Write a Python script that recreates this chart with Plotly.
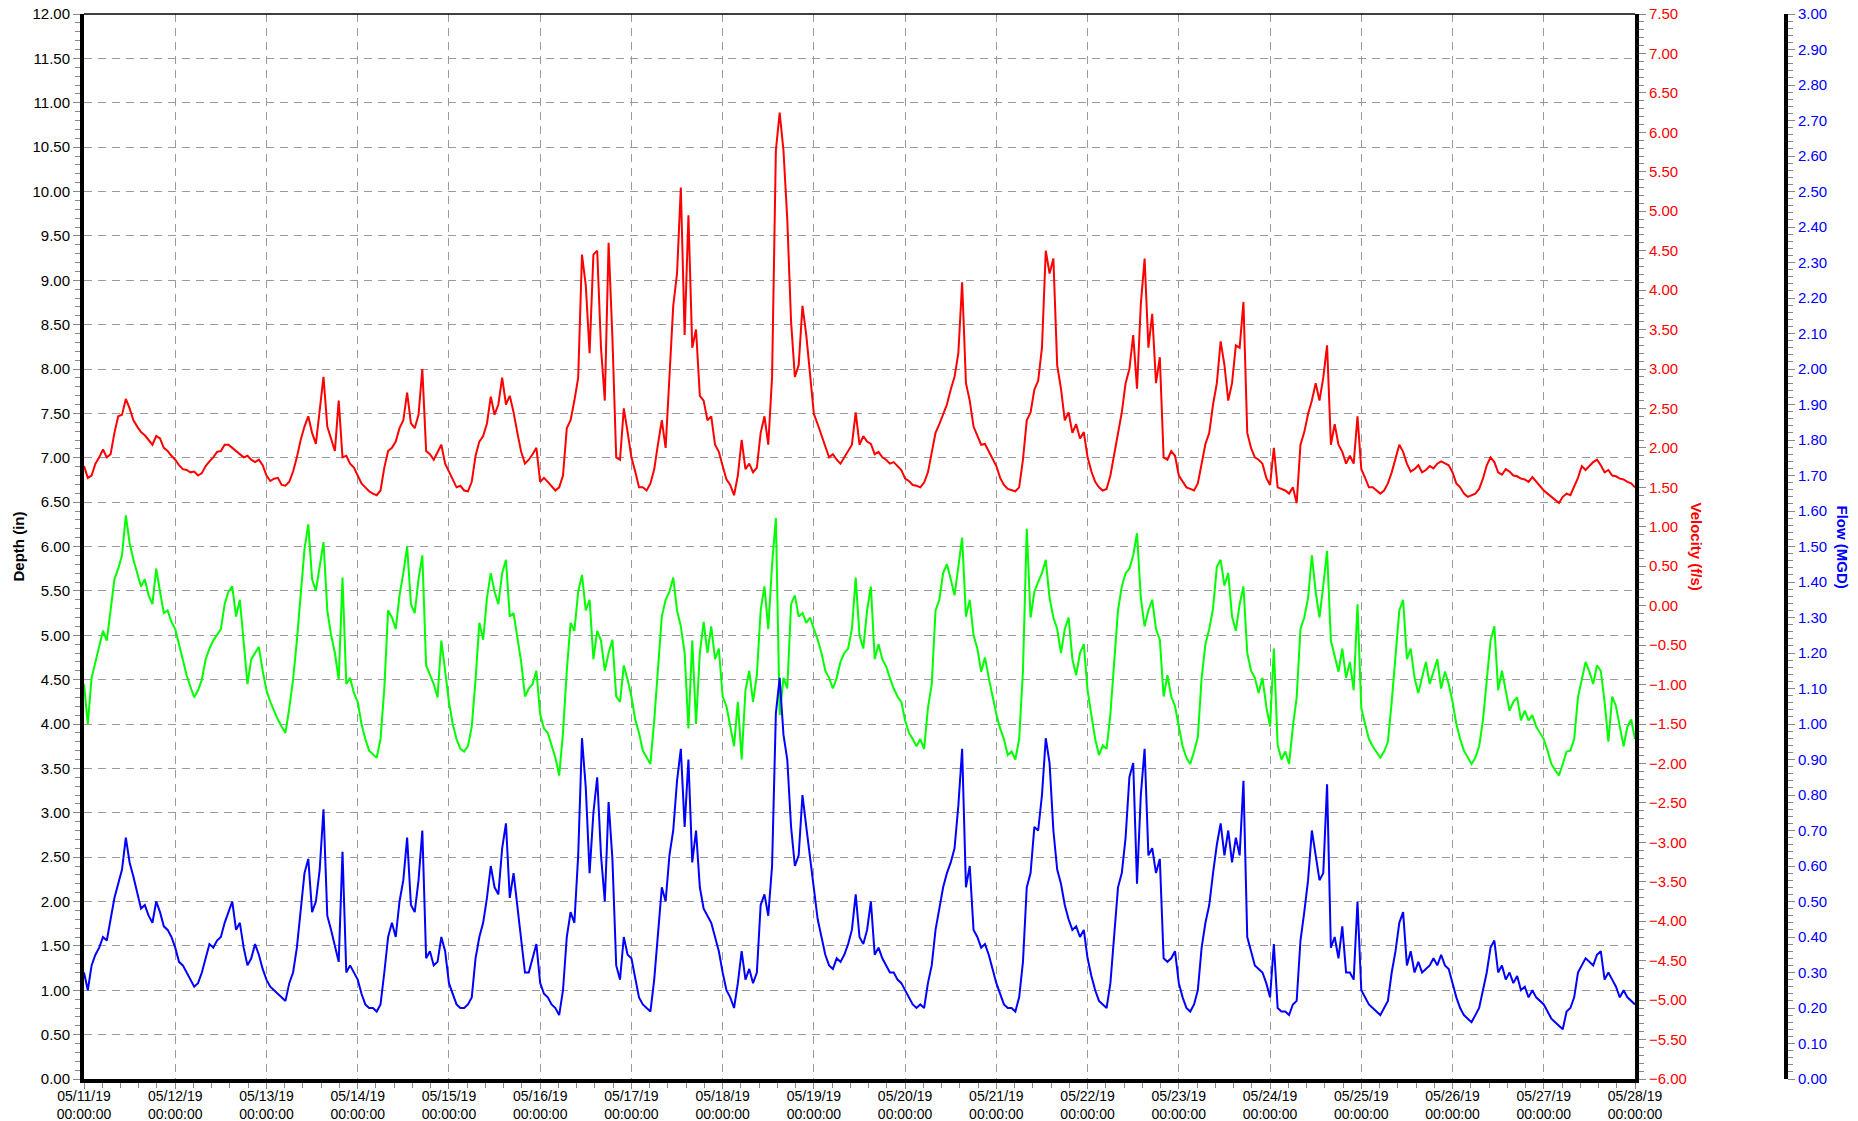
import pandas as pd
import plotly.graph_objects as go

# hourly samples, 05/11/19 00:00 -> 05/28/19 00:00
times = pd.date_range("2019-05-11 00:00", "2019-05-28 00:00", freq="1h")

velocity = [
    1.77,1.62, 1.65,1.80, 1.88,1.98, 1.88,1.92, 2.19,2.40, 2.42,2.62, 2.50,2.35, 2.27,2.20, 2.16,2.10, 2.04,2.15, 2.12,2.00, 1.96,1.90,
    1.85,1.78, 1.73,1.72, 1.69,1.70, 1.65,1.68, 1.77,1.83, 1.88,1.95, 1.96,2.04, 2.04,2.00, 1.96,1.92, 1.88,1.90, 1.85,1.82, 1.85,1.78,
    1.65,1.58, 1.61,1.62, 1.53,1.52, 1.57,1.70, 1.88,2.10, 2.27,2.40, 2.19,2.05, 2.50,2.90, 2.27,2.10, 1.96,2.60, 1.88,1.90, 1.80,1.75,
    1.65,1.55, 1.50,1.45, 1.42,1.40, 1.46,1.75, 1.96,2.00, 2.08,2.25, 2.35,2.70, 2.31,2.25, 2.42,3.00, 1.96,1.92, 1.85,1.95, 2.04,1.80,
    1.69,1.60, 1.50,1.52, 1.46,1.45, 1.57,1.90, 2.08,2.15, 2.31,2.65, 2.42,2.55, 2.89,2.55, 2.66,2.45, 2.19,1.95, 1.80,1.85, 1.92,2.00,
    1.57,1.62, 1.57,1.52, 1.46,1.50, 1.65,2.25, 2.35,2.60, 2.89,4.45, 4.06,3.20, 4.45,4.50, 3.27,2.60, 4.60,3.40, 1.88,1.85, 2.50,2.20,
    1.88,1.70, 1.50,1.50, 1.46,1.55, 1.73,2.05, 2.35,2.00, 2.89,3.80, 4.21,5.30, 3.43,4.95, 3.27,3.50, 2.66,2.60, 2.35,2.40, 2.04,1.95,
    1.77,1.60, 1.53,1.40, 1.65,2.10, 1.73,1.80, 1.69,1.75, 2.19,2.40, 2.04,2.90, 5.77,6.25, 5.77,4.90, 3.60,2.90, 3.05,3.80, 3.43,2.90,
    2.43,2.30, 2.16,2.00, 1.88,1.92, 1.85,1.80, 1.88,1.95, 2.04,2.45, 2.04,2.15, 2.08,2.05, 1.92,1.95, 1.88,1.85, 1.80,1.82, 1.77,1.72,
    1.61,1.58, 1.53,1.52, 1.50,1.56, 1.69,1.95, 2.19,2.30, 2.43,2.55, 2.74,2.90, 3.20,4.10, 2.82,2.60, 2.27,2.15, 2.04,2.05, 1.96,1.85,
    1.77,1.62, 1.53,1.48, 1.46,1.45, 1.50,1.85, 2.35,2.45, 2.74,2.85, 3.27,4.50, 4.21,4.40, 3.05,2.75, 2.35,2.45, 2.19,2.30, 2.12,2.20,
    1.88,1.70, 1.57,1.50, 1.46,1.48, 1.65,1.90, 2.19,2.45, 2.82,3.00, 3.43,2.75, 3.82,4.40, 3.27,3.70, 2.82,3.15, 1.88,1.85, 1.96,1.90,
    1.65,1.58, 1.50,1.48, 1.46,1.55, 1.80,2.05, 2.19,2.55, 2.82,3.35, 3.05,2.60, 2.82,3.30, 3.27,3.85, 2.19,2.00, 1.88,1.85, 1.80,1.62,
    1.53,2.00, 1.50,1.48, 1.46,1.42, 1.50,1.30, 2.04,2.20, 2.43,2.60, 2.82,2.60, 2.89,3.30, 2.04,2.30, 2.04,1.95, 1.80,1.90, 1.80,2.40,
    1.73,1.62, 1.50,1.50, 1.46,1.42, 1.46,1.55, 1.69,1.85, 2.04,1.95, 1.80,1.70, 1.73,1.78, 1.69,1.72, 1.77,1.74, 1.80,1.83, 1.80,1.78,
    1.69,1.55, 1.50,1.42, 1.38,1.40, 1.42,1.48, 1.61,1.78, 1.88,1.82, 1.69,1.66, 1.73,1.70, 1.65,1.64, 1.61,1.60, 1.57,1.63, 1.57,1.52,
    1.46,1.42, 1.38,1.35, 1.30,1.38, 1.42,1.40, 1.50,1.62, 1.77,1.72, 1.77,1.82, 1.85,1.78, 1.69,1.72, 1.65,1.64, 1.61,1.60, 1.57,1.55,
    1.50,
]

depth = [
    4.45,4.00, 4.52,4.70, 4.87,5.05, 4.94,5.30, 5.63,5.75, 5.90,6.35, 6.04,5.85, 5.70,5.55, 5.63,5.45, 5.35,5.75, 5.49,5.25, 5.28,5.15,
    5.07,4.90, 4.73,4.55, 4.42,4.30, 4.38,4.50, 4.73,4.85, 4.94,5.00, 5.07,5.35, 5.49,5.55, 5.21,5.40, 4.94,4.45, 4.73,4.80, 4.87,4.60,
    4.38,4.25, 4.14,4.05, 3.97,3.90, 4.18,4.50, 4.94,5.50, 5.97,6.25, 5.63,5.50, 5.77,6.05, 5.28,5.00, 4.80,4.50, 5.65,4.45, 4.52,4.35,
    4.25,4.00, 3.83,3.70, 3.66,3.62, 3.83,4.40, 5.28,5.20, 5.07,5.45, 5.70,6.00, 5.35,5.25, 5.63,5.90, 4.66,4.55, 4.45,4.30, 4.94,4.60,
    4.25,4.00, 3.83,3.72, 3.69,3.75, 3.97,4.50, 5.14,4.95, 5.42,5.70, 5.49,5.35, 5.70,5.85, 5.21,5.25, 5.00,4.70, 4.31,4.40, 4.45,4.60,
    4.11,3.95, 3.90,3.75, 3.62,3.42, 3.90,4.60, 5.14,5.05, 5.49,5.68, 5.28,5.40, 4.73,5.05, 4.94,4.60, 4.80,4.95, 4.31,4.25, 4.66,4.50,
    4.31,4.05, 3.90,3.70, 3.62,3.55, 4.04,4.60, 5.21,5.40, 5.49,5.65, 5.28,5.10, 4.80,3.95, 4.94,4.00, 4.80,5.15, 4.80,5.10, 4.73,4.85,
    4.31,4.20, 3.97,3.75, 4.25,3.60, 4.38,4.60, 4.25,4.55, 5.28,5.55, 5.07,5.80, 6.32,4.10, 4.52,4.40, 5.35,5.45, 5.21,5.25, 5.14,5.20,
    5.07,4.95, 4.80,4.60, 4.52,4.40, 4.52,4.70, 4.80,4.85, 5.07,5.65, 5.00,4.85, 5.28,5.55, 4.73,4.90, 4.73,4.65, 4.52,4.40, 4.31,4.25,
    4.04,3.90, 3.83,3.75, 3.83,3.72, 4.18,4.45, 5.28,5.40, 5.70,5.80, 5.63,5.45, 5.77,6.10, 5.21,5.40, 5.00,4.85, 4.59,4.75, 4.52,4.30,
    4.11,3.95, 3.83,3.65, 3.69,3.60, 3.83,4.60, 6.20,5.20, 5.49,5.60, 5.70,5.85, 5.42,5.20, 5.07,4.80, 5.07,5.20, 4.73,4.55, 4.80,4.90,
    4.38,4.10, 3.83,3.65, 3.76,3.72, 4.11,4.70, 5.28,5.55, 5.70,5.75, 5.90,6.15, 5.42,5.10, 5.28,5.40, 5.07,4.95, 4.31,4.55, 4.31,4.20,
    3.97,3.75, 3.62,3.55, 3.69,3.85, 4.52,4.90, 5.07,5.30, 5.77,5.85, 5.56,5.70, 5.21,5.05, 5.35,5.55, 4.80,4.60, 4.52,4.35, 4.52,4.20,
    3.97,4.85, 3.76,3.60, 3.69,3.55, 3.97,4.30, 5.07,5.20, 5.42,5.90, 5.49,5.20, 5.56,5.95, 4.94,4.75, 4.59,4.85, 4.52,4.70, 4.38,5.35,
    4.18,4.00, 3.83,3.75, 3.69,3.62, 3.69,3.80, 4.25,4.80, 5.28,5.40, 4.73,4.85, 4.52,4.35, 4.52,4.70, 4.45,4.60, 4.73,4.40, 4.59,4.45,
    4.25,4.00, 3.83,3.70, 3.62,3.55, 3.62,3.75, 4.04,4.45, 4.94,5.10, 4.38,4.60, 4.38,4.15, 4.25,4.30, 4.04,4.15, 4.04,4.10, 3.97,3.90,
    3.83,3.70, 3.55,3.48, 3.42,3.55, 3.69,3.70, 3.83,4.30, 4.52,4.70, 4.59,4.45, 4.66,4.60, 4.25,3.80, 4.31,4.20, 3.97,3.75, 3.97,4.05,
    3.83,
]

flow = [
    0.30,0.25, 0.32,0.35, 0.37,0.40, 0.39,0.45, 0.51,0.55, 0.59,0.68, 0.61,0.57, 0.52,0.48, 0.49,0.46, 0.44,0.50, 0.47,0.43, 0.42,0.40,
    0.37,0.33, 0.32,0.30, 0.28,0.26, 0.27,0.30, 0.34,0.38, 0.37,0.39, 0.40,0.44, 0.47,0.50, 0.42,0.44, 0.37,0.32, 0.34,0.38, 0.35,0.31,
    0.28,0.26, 0.25,0.24, 0.23,0.22, 0.27,0.30, 0.37,0.48, 0.58,0.62, 0.47,0.50, 0.59,0.76, 0.46,0.42, 0.37,0.33, 0.64,0.30, 0.32,0.30,
    0.28,0.24, 0.21,0.20, 0.20,0.19, 0.21,0.30, 0.40,0.44, 0.40,0.50, 0.56,0.68, 0.49,0.47, 0.56,0.70, 0.34,0.36, 0.32,0.33, 0.40,0.36,
    0.27,0.24, 0.21,0.20, 0.20,0.21, 0.23,0.34, 0.40,0.44, 0.51,0.60, 0.54,0.52, 0.65,0.72, 0.51,0.58, 0.49,0.40, 0.30,0.30, 0.34,0.38,
    0.27,0.24, 0.23,0.21, 0.20,0.18, 0.25,0.40, 0.47,0.44, 0.63,0.96, 0.82,0.58, 0.75,0.85, 0.63,0.50, 0.78,0.62, 0.32,0.28, 0.40,0.35,
    0.34,0.28, 0.23,0.21, 0.20,0.19, 0.28,0.40, 0.54,0.50, 0.63,0.70, 0.84,0.93, 0.71,0.90, 0.61,0.70, 0.54,0.48, 0.46,0.44, 0.40,0.36,
    0.30,0.25, 0.23,0.20, 0.27,0.36, 0.28,0.31, 0.27,0.30, 0.49,0.52, 0.46,0.60, 1.03,1.13, 0.97,0.90, 0.71,0.60, 0.63,0.80, 0.71,0.62,
    0.54,0.45, 0.40,0.35, 0.32,0.31, 0.34,0.33, 0.35,0.38, 0.42,0.52, 0.40,0.38, 0.42,0.50, 0.35,0.37, 0.34,0.32, 0.30,0.30, 0.28,0.27,
    0.25,0.23, 0.21,0.20, 0.21,0.20, 0.27,0.32, 0.42,0.48, 0.54,0.58, 0.61,0.65, 0.77,0.93, 0.54,0.60, 0.42,0.40, 0.37,0.38, 0.35,0.31,
    0.27,0.24, 0.21,0.20, 0.20,0.19, 0.23,0.33, 0.54,0.58, 0.71,0.70, 0.80,0.96, 0.89,0.70, 0.59,0.55, 0.49,0.45, 0.42,0.43, 0.40,0.42,
    0.34,0.29, 0.25,0.22, 0.21,0.20, 0.27,0.40, 0.54,0.58, 0.68,0.85, 0.89,0.55, 0.80,0.93, 0.63,0.65, 0.58,0.62, 0.34,0.33, 0.34,0.36,
    0.27,0.23, 0.20,0.19, 0.21,0.25, 0.37,0.44, 0.49,0.58, 0.66,0.72, 0.63,0.70, 0.61,0.68, 0.63,0.84, 0.40,0.36, 0.32,0.31, 0.30,0.27,
    0.23,0.38, 0.20,0.19, 0.19,0.18, 0.21,0.22, 0.39,0.47, 0.56,0.70, 0.63,0.56, 0.58,0.83, 0.37,0.40, 0.34,0.43, 0.30,0.30, 0.28,0.50,
    0.25,0.23, 0.21,0.20, 0.19,0.18, 0.20,0.22, 0.30,0.36, 0.44,0.47, 0.32,0.36, 0.30,0.33, 0.30,0.31, 0.32,0.34, 0.32,0.35, 0.32,0.31,
    0.27,0.23, 0.20,0.18, 0.17,0.16, 0.18,0.20, 0.25,0.30, 0.37,0.39, 0.30,0.32, 0.28,0.30, 0.27,0.29, 0.25,0.26, 0.23,0.25, 0.23,0.22,
    0.21,0.19, 0.17,0.16, 0.15,0.14, 0.19,0.20, 0.23,0.30, 0.32,0.34, 0.33,0.32, 0.35,0.36, 0.28,0.30, 0.28,0.26, 0.23,0.25, 0.23,0.22,
    0.21,
]

FONT = "Liberation Sans, Arial, Helvetica, sans-serif"
W, H = 1858, 1121
ML, MR, MT, MB = 84, 72, 14, 42
PW = W - ML - MR
XDOM = (1635 - ML) / PW

def px(x):
    return (x - ML) / PW

fig = go.Figure()
fig.add_trace(go.Scatter(x=times, y=depth, mode="lines", name="Depth",
                         line=dict(color="#00FF00", width=2), yaxis="y"))
fig.add_trace(go.Scatter(x=times, y=velocity, mode="lines", name="Velocity",
                         line=dict(color="#FF0000", width=2), yaxis="y2"))
fig.add_trace(go.Scatter(x=times, y=flow, mode="lines", name="Flow",
                         line=dict(color="#0000FF", width=2), yaxis="y3"))

tickgray = "#888888"
gridgray = "#9a9a9a"

fig.update_layout(
    width=W, height=H,
    margin=dict(l=ML, r=MR, t=MT, b=MB, pad=0, autoexpand=False),
    paper_bgcolor="white", plot_bgcolor="white",
    showlegend=False,
    font=dict(family=FONT, size=15, color="black"),
    xaxis=dict(
        domain=[0, XDOM], type="date", automargin=False,
        range=["2019-05-11 00:00", "2019-05-28 00:00"],
        tick0="2019-05-11", dtick=86400000,
        tickformat="%m/%d/%y<br>%H:%M:%S",
        ticks="outside", ticklen=6, tickcolor=tickgray, tickwidth=1,
        ticklabelstandoff=-5,
        showline=True, linecolor="black", linewidth=4,
        showgrid=True, gridcolor=gridgray, griddash="8px,6px", gridwidth=1,
        zeroline=False,
        tickfont=dict(family=FONT, size=14, color="black"),
        minor=dict(dtick=86400000 / 5, ticks="outside", ticklen=5,
                   tickcolor=tickgray, showgrid=False),
    ),
    yaxis=dict(
        range=[0, 12], dtick=0.5, tick0=0, tickformat=".2f", automargin=False,
        ticks="outside", ticklen=7, tickcolor=tickgray, tickwidth=1,
        showline=True, linecolor="black", linewidth=4,
        showgrid=True, gridcolor=gridgray, griddash="8px,6px", gridwidth=1,
        zeroline=False,
        tickfont=dict(family=FONT, size=15, color="black"),
        minor=dict(dtick=0.1, ticks="outside", ticklen=5,
                   tickcolor=tickgray, showgrid=False),
    ),
    yaxis2=dict(
        overlaying="y", side="right", anchor="x", automargin=False,
        range=[-6, 7.5], dtick=0.5, tick0=0, tickformat=".2f",
        ticks="outside", ticklen=7, tickcolor=tickgray, tickwidth=1,
        showline=True, linecolor="black", linewidth=4,
        showgrid=False, zeroline=False,
        tickfont=dict(family=FONT, size=15, color="#FF0000"),
        minor=dict(dtick=0.1, ticks="outside", ticklen=5,
                   tickcolor=tickgray, showgrid=False),
    ),
    yaxis3=dict(
        overlaying="y", side="right", anchor="free", position=1.0,
        automargin=False,
        range=[0, 3], dtick=0.1, tick0=0, tickformat=".2f",
        ticks="outside", ticklen=7, tickcolor=tickgray, tickwidth=1,
        showline=True, linecolor="black", linewidth=4,
        showgrid=False, zeroline=False,
        tickfont=dict(family=FONT, size=15, color="#0000FF"),
        minor=dict(dtick=0.02, ticks="outside", ticklen=5,
                   tickcolor=tickgray, showgrid=False),
    ),
    shapes=[dict(type="line", xref="paper", yref="paper",
                 x0=0, x1=XDOM, y0=1, y1=1,
                 line=dict(color="black", width=1.5))],
    annotations=[
        dict(text="<b>Depth (in)</b>", xref="paper", yref="paper",
             x=px(18), y=0.5, xanchor="center", yanchor="middle",
             textangle=-90, showarrow=False,
             font=dict(family=FONT, size=15, color="black")),
        dict(text="<b>Velocity (f/s)</b>", xref="paper", yref="paper",
             x=px(1696), y=0.5, xanchor="center", yanchor="middle",
             textangle=90, showarrow=False,
             font=dict(family=FONT, size=15, color="#FF0000")),
        dict(text="<b>Flow (MGD)</b>", xref="paper", yref="paper",
             x=px(1842), y=0.5, xanchor="center", yanchor="middle",
             textangle=90, showarrow=False,
             font=dict(family=FONT, size=15, color="#0000FF")),
    ],
)

fig.write_html("out.html")
